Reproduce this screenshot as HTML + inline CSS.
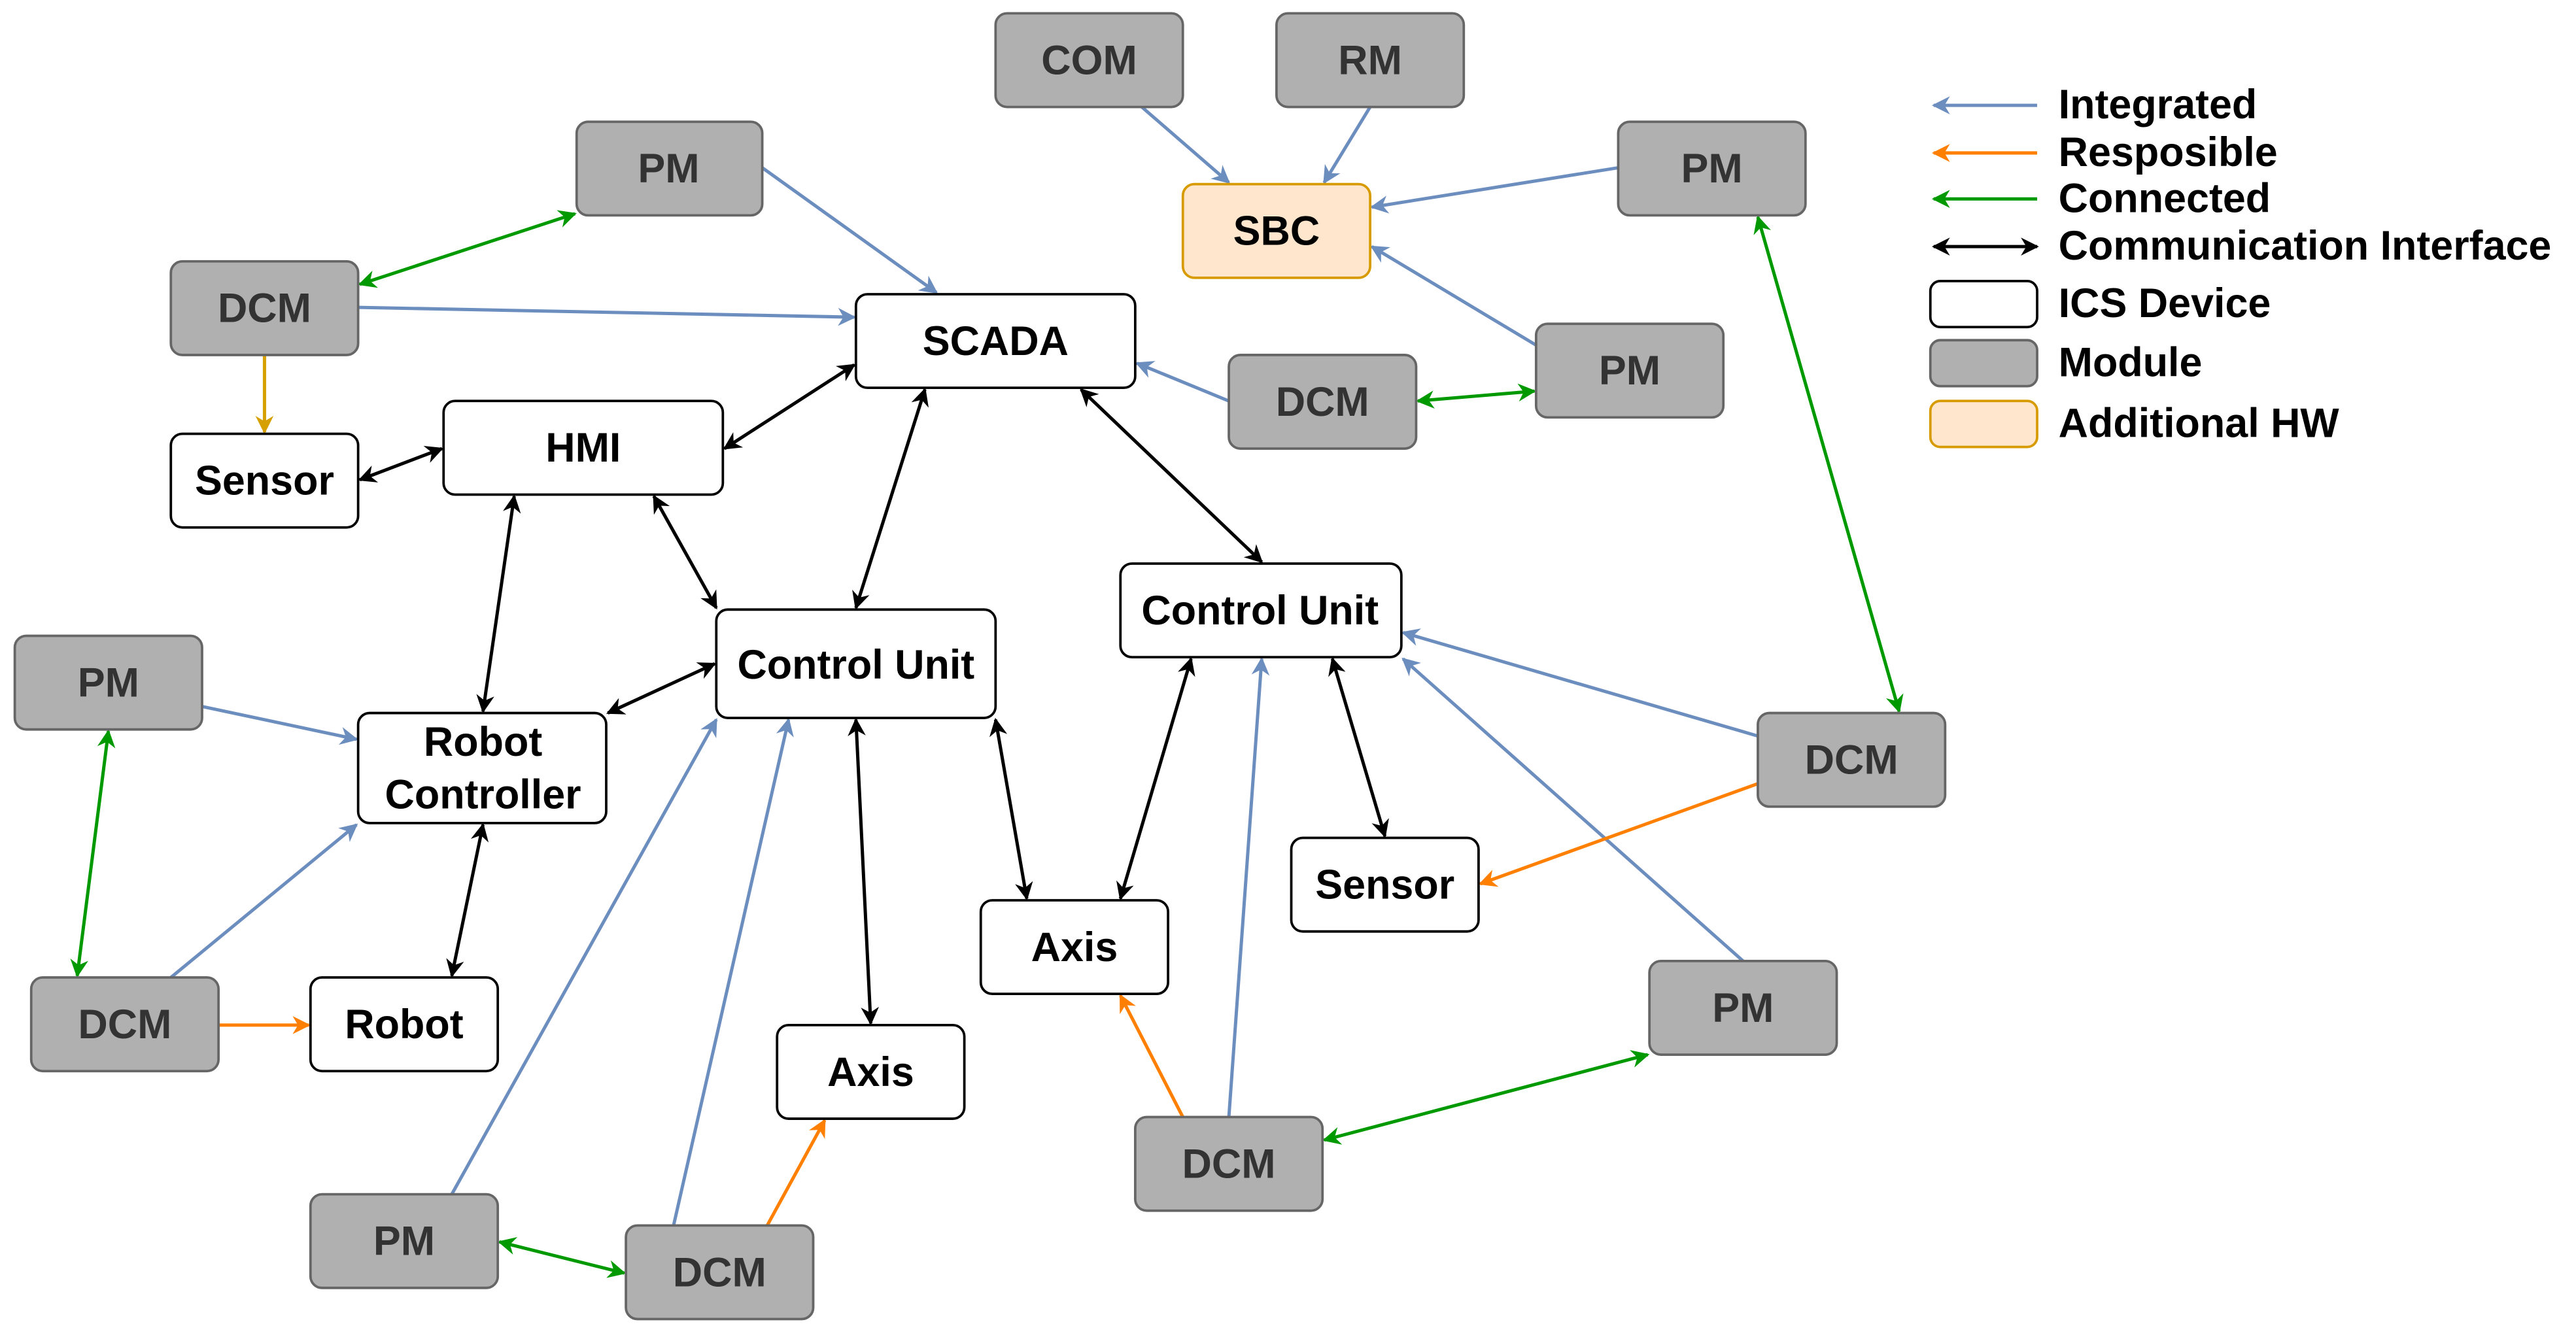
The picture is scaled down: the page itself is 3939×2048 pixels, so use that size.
<!DOCTYPE html>
<html><head><meta charset="utf-8"><style>
html,body{margin:0;padding:0;background:#fff;}
svg{display:block;}
text{font-family:"Liberation Sans",Arial,sans-serif;font-weight:bold;font-size:25px;}
</style></head><body>
<svg width="3939" height="2048" viewBox="0 0 1568 815" xmlns="http://www.w3.org/2000/svg">
<defs>
<marker id="ab" viewBox="0 0 10 10" refX="9" refY="5" markerWidth="5.5" markerHeight="5.5" orient="auto-start-reverse" markerUnits="strokeWidth"><path d="M0,0 L10,5 L0,10 L3,5 z" fill="#6c8ebf"/></marker>
<marker id="ao" viewBox="0 0 10 10" refX="9" refY="5" markerWidth="5.5" markerHeight="5.5" orient="auto-start-reverse" markerUnits="strokeWidth"><path d="M0,0 L10,5 L0,10 L3,5 z" fill="#ff8000"/></marker>
<marker id="ay" viewBox="0 0 10 10" refX="9" refY="5" markerWidth="5.5" markerHeight="5.5" orient="auto-start-reverse" markerUnits="strokeWidth"><path d="M0,0 L10,5 L0,10 L3,5 z" fill="#d6a000"/></marker>
<marker id="ag" viewBox="0 0 10 10" refX="9" refY="5" markerWidth="5.5" markerHeight="5.5" orient="auto-start-reverse" markerUnits="strokeWidth"><path d="M0,0 L10,5 L0,10 L3,5 z" fill="#009900"/></marker>
<marker id="ak" viewBox="0 0 10 10" refX="9" refY="5" markerWidth="5.5" markerHeight="5.5" orient="auto-start-reverse" markerUnits="strokeWidth"><path d="M0,0 L10,5 L0,10 L3,5 z" fill="#000"/></marker>
</defs>

<g stroke-width="2" fill="none">
<g stroke="#6c8ebf" marker-end="url(#ab)">
<line x1="695" y1="65" x2="748" y2="111"/>
<line x1="834" y1="65" x2="806" y2="111"/>
<line x1="985" y1="102" x2="835" y2="126"/>
<line x1="935" y1="210" x2="835" y2="150"/>
<line x1="464" y1="102" x2="570" y2="178"/>
<line x1="218" y1="187" x2="520" y2="193"/>
<line x1="748" y1="244" x2="692" y2="221"/>
<line x1="123" y1="430" x2="217" y2="450"/>
<line x1="104" y1="595" x2="217" y2="502"/>
<line x1="275" y1="727" x2="436" y2="438"/>
<line x1="410" y1="746" x2="480" y2="438"/>
<line x1="748" y1="680" x2="768" y2="401"/>
<line x1="1070" y1="448" x2="854" y2="385"/>
<line x1="1061" y1="585" x2="854" y2="401"/>
</g>
<g stroke="#ff8000" marker-end="url(#ao)">
<line x1="133" y1="624" x2="188" y2="624"/>
<line x1="467" y1="746" x2="502" y2="682"/>
<line x1="720" y1="680" x2="682" y2="606"/>
<line x1="1070" y1="477" x2="901" y2="538"/>
</g>
<line x1="161" y1="216" x2="161" y2="263" stroke="#d6a000" marker-end="url(#ay)"/>
<g stroke="#009900" marker-end="url(#ag)" marker-start="url(#ag)">
<line x1="350" y1="130" x2="219" y2="173"/>
<line x1="863" y1="244" x2="934" y2="238"/>
<line x1="1070" y1="132" x2="1156" y2="433"/>
<line x1="66" y1="445" x2="47" y2="594"/>
<line x1="304" y1="756" x2="380" y2="775"/>
<line x1="806" y1="694" x2="1003" y2="642"/>
</g>
<g stroke="#000" marker-end="url(#ak)" marker-start="url(#ak)">
<line x1="441" y1="273" x2="520" y2="222"/>
<line x1="219" y1="292" x2="269" y2="273"/>
<line x1="563" y1="237" x2="521" y2="370"/>
<line x1="658" y1="237" x2="768" y2="342"/>
<line x1="313" y1="302" x2="294" y2="433"/>
<line x1="398" y1="302" x2="436" y2="370"/>
<line x1="370" y1="434" x2="435" y2="404"/>
<line x1="294" y1="502" x2="275" y2="594"/>
<line x1="521" y1="438" x2="530" y2="623"/>
<line x1="606" y1="438" x2="625" y2="547"/>
<line x1="725" y1="401" x2="682" y2="547"/>
<line x1="811" y1="401" x2="843" y2="509"/>
</g>
</g>

<g fill="#b0b0b0" stroke="#666" stroke-width="1.5">
<rect x="606" y="8" width="114" height="57" rx="7"/>
<rect x="777" y="8" width="114" height="57" rx="7"/>
<rect x="351" y="74" width="113" height="57" rx="7"/>
<rect x="985" y="74" width="114" height="57" rx="7"/>
<rect x="104" y="159" width="114" height="57" rx="7"/>
<rect x="748" y="216" width="114" height="57" rx="7"/>
<rect x="935" y="197" width="114" height="57" rx="7"/>
<rect x="9" y="387" width="114" height="57" rx="7"/>
<rect x="1070" y="434" width="114" height="57" rx="7"/>
<rect x="19" y="595" width="114" height="57" rx="7"/>
<rect x="1004" y="585" width="114" height="57" rx="7"/>
<rect x="691" y="680" width="114" height="57" rx="7"/>
<rect x="189" y="727" width="114" height="57" rx="7"/>
<rect x="381" y="746" width="114" height="57" rx="7"/>
</g>
<rect x="720" y="112" width="114" height="57" rx="7" fill="#ffe6cc" stroke="#d79b00" stroke-width="1.5"/>
<g fill="#fff" stroke="#000" stroke-width="1.5">
<rect x="521" y="179" width="170" height="57" rx="7"/>
<rect x="270" y="244" width="170" height="57" rx="7"/>
<rect x="104" y="264" width="114" height="57" rx="7"/>
<rect x="682" y="343" width="171" height="57" rx="7"/>
<rect x="436" y="371" width="170" height="66" rx="7"/>
<rect x="218" y="434" width="151" height="67" rx="7"/>
<rect x="786" y="510" width="114" height="57" rx="7"/>
<rect x="597" y="548" width="114" height="57" rx="7"/>
<rect x="189" y="595" width="114" height="57" rx="7"/>
<rect x="473" y="624" width="114" height="57" rx="7"/>
</g>

<g text-anchor="middle" fill="#333">
<text x="663" y="45">COM</text>
<text x="834" y="45">RM</text>
<text x="407" y="111">PM</text>
<text x="1042" y="111">PM</text>
<text x="161" y="196">DCM</text>
<text x="805" y="253">DCM</text>
<text x="992" y="234">PM</text>
<text x="66" y="424">PM</text>
<text x="1127" y="471">DCM</text>
<text x="76" y="632">DCM</text>
<text x="1061" y="622">PM</text>
<text x="748" y="717">DCM</text>
<text x="246" y="764">PM</text>
<text x="438" y="783">DCM</text>
</g>
<g text-anchor="middle" fill="#000">
<text x="777" y="149">SBC</text>
<text x="606" y="216">SCADA</text>
<text x="355" y="281">HMI</text>
<text x="161" y="301">Sensor</text>
<text x="767" y="380">Control Unit</text>
<text x="521" y="413">Control Unit</text>
<text x="294" y="460">Robot</text>
<text x="294" y="492">Controller</text>
<text x="843" y="547">Sensor</text>
<text x="654" y="585">Axis</text>
<text x="246" y="632">Robot</text>
<text x="530" y="661">Axis</text>
</g>

<g stroke-width="2">
<line x1="1240" y1="64" x2="1177" y2="64" stroke="#6c8ebf" marker-end="url(#ab)"/>
<line x1="1240" y1="93" x2="1177" y2="93" stroke="#ff8000" marker-end="url(#ao)"/>
<line x1="1240" y1="121" x2="1177" y2="121" stroke="#009900" marker-end="url(#ag)"/>
<line x1="1177" y1="150" x2="1240" y2="150" stroke="#000" marker-end="url(#ak)" marker-start="url(#ak)"/>
</g>
<rect x="1175" y="171" width="65" height="28" rx="6" fill="#fff" stroke="#000" stroke-width="1.5"/>
<rect x="1175" y="207" width="65" height="28" rx="6" fill="#b0b0b0" stroke="#666" stroke-width="1.5"/>
<rect x="1175" y="244" width="65" height="28" rx="6" fill="#ffe6cc" stroke="#d79b00" stroke-width="1.5"/>
<g fill="#000">
<text x="1253" y="72">Integrated</text>
<text x="1253" y="101">Resposible</text>
<text x="1253" y="129">Connected</text>
<text x="1253" y="158">Communication Interface</text>
<text x="1253" y="193">ICS Device</text>
<text x="1253" y="229">Module</text>
<text x="1253" y="266">Additional HW</text>
</g>
</svg>
</body></html>
